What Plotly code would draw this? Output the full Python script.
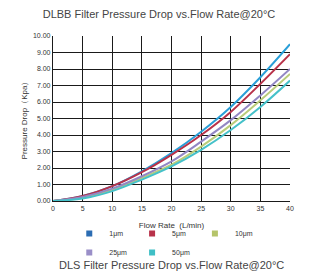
import plotly.graph_objects as go

flow = [0, 5, 10, 15, 20, 25, 30, 35, 40]
s_1um = [0, 0.30, 0.90, 1.80, 2.90, 4.20, 5.70, 7.50, 9.50]
s_5um = [0, 0.30, 0.90, 1.75, 2.80, 4.00, 5.40, 7.10, 8.90]
s_10um = [0, 0.20, 0.70, 1.40, 2.20, 3.30, 4.60, 6.10, 7.70]
s_25um = [0, 0.25, 0.75, 1.50, 2.40, 3.60, 4.90, 6.40, 8.00]
s_50um = [0, 0.15, 0.60, 1.30, 2.10, 3.10, 4.30, 5.70, 7.30]
names = ["1μm", "5μm", "10μm", "25μm", "50μm"]
line_colors = ["#2a9fd8", "#b8324a", "#b9cc7a", "#9287c4", "#45c1c9"]
legend_colors = ["#2c6db3", "#b8324a", "#b5c46a", "#9a8fc8", "#3fbfc6"]
yticks = [0, 1, 2, 3, 4, 5, 6, 7, 8, 9, 10]
ytick_labels = ["%.2f" % v for v in yticks]
xticks = [0, 5, 10, 15, 20, 25, 30, 35, 40]

series = [s_1um, s_5um, s_10um, s_25um, s_50um]
fig = go.Figure()
for name, ys, c in zip(names, series, line_colors):
    fig.add_trace(go.Scatter(x=flow, y=ys, mode="lines", line=dict(color=c, width=2, shape="spline"),
                             showlegend=False, name=name))
for name, c in zip(names, legend_colors):
    fig.add_trace(go.Scatter(x=[None], y=[None], mode="markers", name=name,
                             marker=dict(symbol="square", size=6, color=c)))

fig.update_layout(
    width=318, height=272,
    margin=dict(l=53, r=28, t=36, b=71, autoexpand=False),
    paper_bgcolor="white", plot_bgcolor="white",
    font=dict(family="Liberation Sans, Arial", color="#333"),
    title=dict(text="DLBB Filter Pressure Drop vs.Flow Rate@20°C", x=0.5, xanchor="center",
               y=1 - 14 / 272, yanchor="middle", font=dict(size=11, color="#444")),
    showlegend=True,
    legend=dict(orientation="h", xref="container", x=0.515, xanchor="center",
                y=-(243 - 201) / 165, yanchor="middle",
                font=dict(size=7, color="#333"),
                itemwidth=30, tracegroupgap=0, bgcolor="rgba(0,0,0,0)"),
    xaxis=dict(range=[0, 40], tickvals=xticks, showgrid=True, gridcolor="#1a1a1a", gridwidth=1.2,
               zeroline=False, showline=True, linecolor="#1a1a1a", linewidth=1.2, tickfont=dict(size=7),
               automargin=False,
               title=dict(text="Flow Rate  (L/min)", font=dict(size=8), standoff=11), ticks=""),
    yaxis=dict(range=[0, 10], tickvals=yticks, ticktext=ytick_labels, showgrid=True,
               gridcolor="#1a1a1a", gridwidth=1.2, zeroline=False, showline=True, linecolor="#1a1a1a",
               linewidth=1.2, tickfont=dict(size=7), ticks="", automargin=False,
               title=dict(text="Pressure Drop（Kpa）", font=dict(size=8), standoff=4)),
    annotations=[dict(text="DLS Filter Pressure Drop vs.Flow Rate@20°C", xref="paper", yref="paper",
                      x=0.5, xanchor="center", y=-(265 - 201) / 165, yanchor="middle",
                      showarrow=False, font=dict(size=11, color="#444"))],
)
fig.write_html("out.html", config={"displayModeBar": False},
               post_script="document.body.style.margin='0';document.body.style.overflow='hidden';")
